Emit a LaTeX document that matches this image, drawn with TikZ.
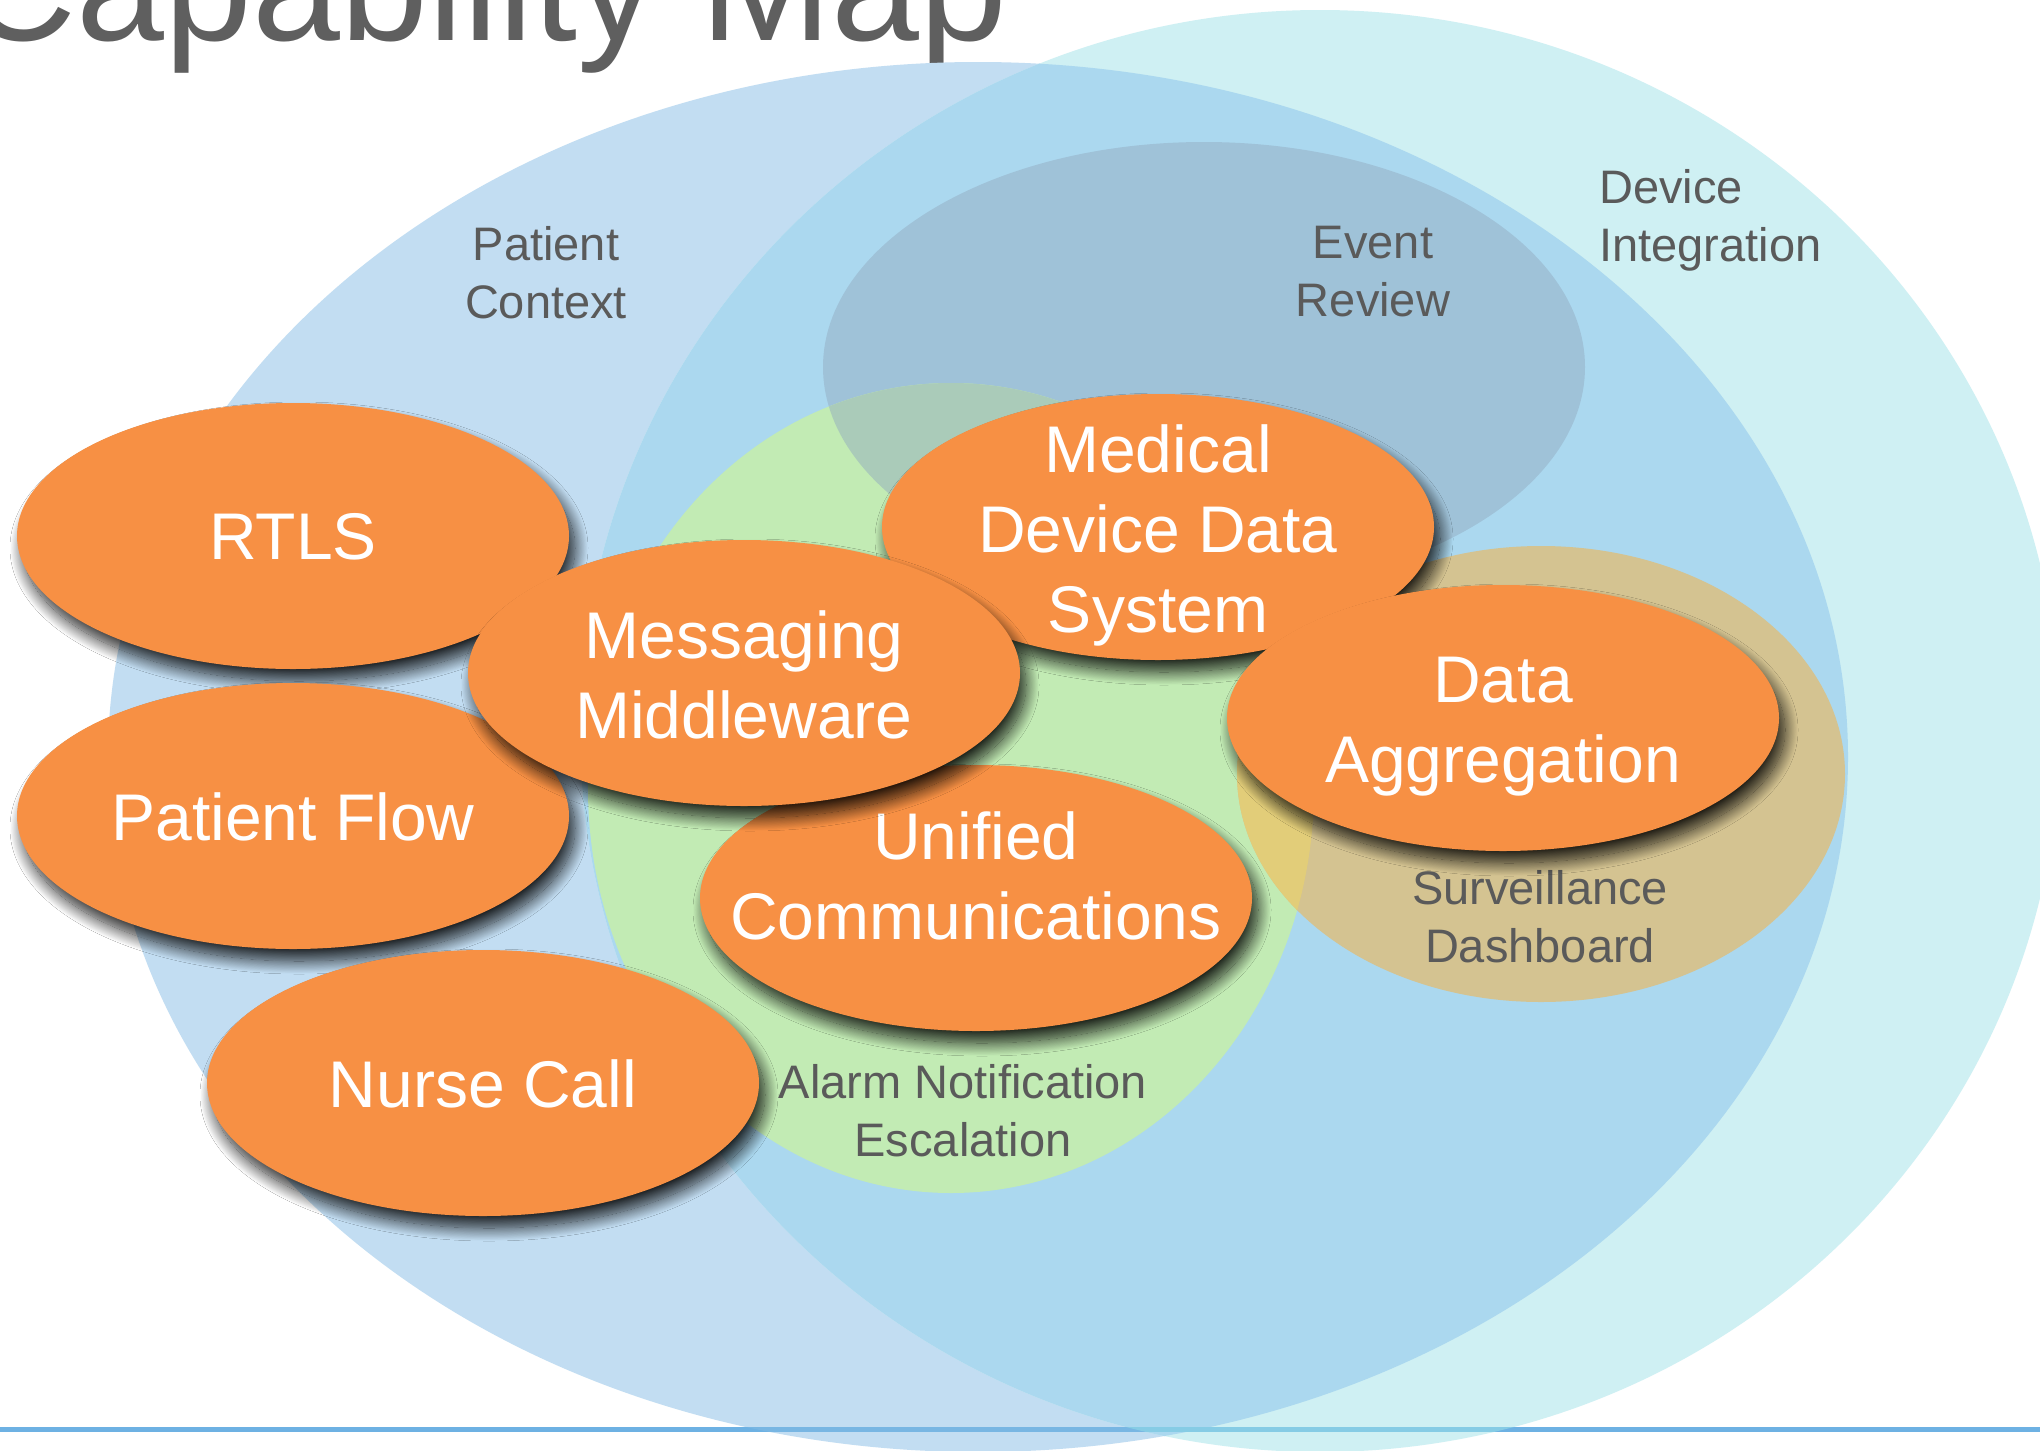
\documentclass[tikz,border=0pt]{standalone}
\usepackage{fontspec}
\setmainfont{Liberation Sans}
\usetikzlibrary{shapes.geometric,shadows.blur}
\definecolor{pcblue}{HTML}{C2DDF2}
\definecolor{dicyan}{HTML}{CFF0F3}
\definecolor{dimix}{HTML}{ABD8EF}
\definecolor{ergray}{HTML}{9FC2D8}
\definecolor{angreen}{HTML}{C2EBB4}
\definecolor{ermix}{HTML}{AACBB9}
\definecolor{sdtan}{HTML}{D4C391}
\definecolor{sdmix}{HTML}{E2CD79}
\definecolor{orng}{HTML}{F79044}
\definecolor{lbl}{HTML}{5A5A5A}
\definecolor{ttl}{HTML}{5F5F5F}
\definecolor{rulec}{HTML}{6DB1E3}
\definecolor{rulelb}{HTML}{78B6E3}
\definecolor{rulecy}{HTML}{86CCE5}
\begin{document}
\begin{tikzpicture}[x=1pt,y=-1pt,
  region/.style={ellipse, inner sep=0pt, outer sep=0pt, draw=none},
  capab/.style={ellipse, fill=orng, minimum width=552pt, minimum height=266pt, inner sep=0pt, outer sep=0pt,
    blur shadow={shadow xshift=6pt, shadow yshift=-12pt, shadow blur radius=13pt, shadow opacity=85, shadow blur steps=24}},
  captext/.style={text=white, align=center, inner sep=0pt, font=\fontsize{66}{80}\selectfont},
  lab/.style={text=lbl, align=center, inner sep=0pt, font=\fontsize{47}{58}\selectfont},
]
\useasboundingbox (0,0) rectangle (2040,1451);
\fill[white] (0,0) rectangle (2040,1451);

% title
\node[anchor=base east, inner sep=0pt, text=ttl, font=\fontsize{158}{166}\selectfont] (title) at (1008,40) {Capability Map};

% background regions
\node[region, fill=pcblue, minimum width=1740pt, minimum height=1390pt] (pc) at (978,757) {};
\node[region, fill=dicyan, minimum width=1480pt, minimum height=1442pt] (di) at (1320,731) {};
\begin{scope}
  \clip (978,757) ellipse [x radius=870pt, y radius=695pt];
  \fill[dimix] (1320,731) ellipse [x radius=740pt, y radius=721pt];
\end{scope}

% bottom rule
\coordinate (rl) at (0,1429.5);
\coordinate (rr) at (2040,1429.5);
\draw[rulec, line width=5pt] (rl) -- (rr);
\begin{scope}
  \clip (978,757) ellipse [x radius=870pt, y radius=695pt];
  \draw[rulelb, line width=5pt] (rl) -- (rr);
\end{scope}
\begin{scope}
  \clip (1320,731) ellipse [x radius=740pt, y radius=721pt];
  \draw[rulecy, line width=5pt] (rl) -- (rr);
\end{scope}

\node[region, fill=ergray, minimum width=762pt, minimum height=450pt] (er) at (1204,367) {};
\node[region, fill=angreen, minimum width=726pt, minimum height=810pt] (an) at (951,788) {};
\begin{scope}
  \clip (951,788) ellipse [x radius=363pt, y radius=405pt];
  \fill[ermix] (1204,367) ellipse [x radius=381pt, y radius=225pt];
\end{scope}
\node[region, fill=sdtan, minimum width=608pt, minimum height=456pt] (sd) at (1541,774) {};
\begin{scope}
  \clip (1541,774) ellipse [x radius=304pt, y radius=228pt];
  \fill[sdmix] (951,788) ellipse [x radius=363pt, y radius=405pt];
\end{scope}

% region labels (base anchor = baseline of the last line)
\node[lab, anchor=base] (pclab) at (546,318) {Patient\\Context};
\node[lab, anchor=base] (erlab) at (1373,316) {Event\\Review};
\node[lab, anchor=base west, align=left] (dilab) at (1599,261) {Device\\Integration};
\node[lab, anchor=base] (sdlab) at (1540,962) {Surveillance\\Dashboard};
\node[lab, anchor=base] (anlab) at (963,1156) {Alarm Notification\\Escalation};

% capabilities
\node[capab] (rtls) at (293,536) {};
\node[captext] (rtlst) at (293,537) {RTLS};
\node[capab] (pf) at (293,816) {};
\node[captext] (pft) at (293,817) {Patient Flow};
\node[capab] (nc) at (483,1083) {};
\node[captext] (nct) at (483,1084) {Nurse Call};
\node[capab] (uc) at (976,898) {};
\node[captext] (uct) at (976,876) {Unified\\Communications};
\node[capab] (mdds) at (1158,527) {};
\node[captext] (mddst) at (1158,535) {Medical\\Device Data\\System};
\node[capab] (mm) at (744,673) {};
\node[captext] (mmt) at (744,675) {Messaging\\Middleware};
\node[capab] (da) at (1503,718) {};
\node[captext] (dat) at (1503,727) {Data\\Aggregation};
\end{tikzpicture}
\end{document}
